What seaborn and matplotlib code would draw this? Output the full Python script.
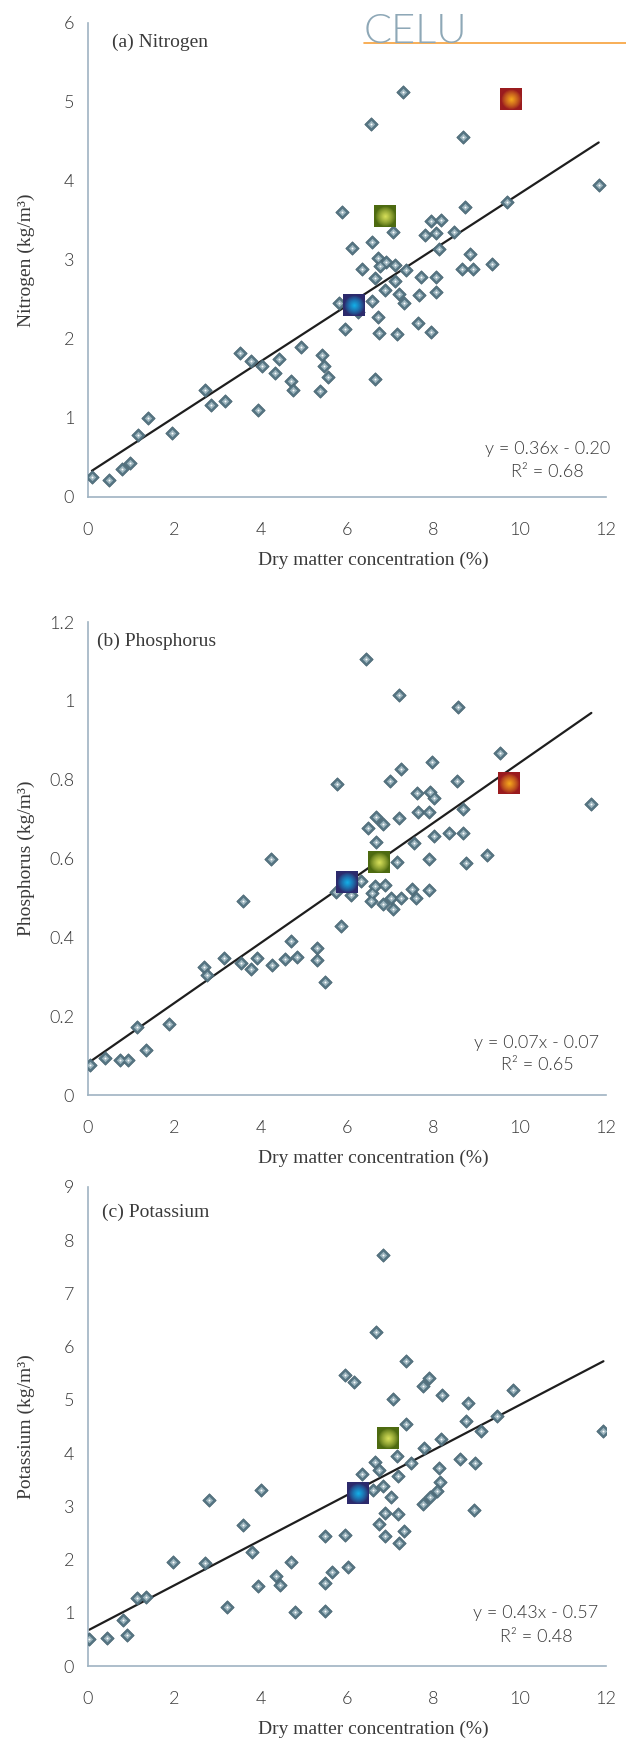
import numpy as np
import pandas as pd
import matplotlib
matplotlib.use('Agg')
import matplotlib.pyplot as plt
from matplotlib.lines import Line2D
from matplotlib.colors import to_rgb
import seaborn as sns

# dry matter (%) vs nutrient concentration (kg/m3)
n_dm = [7.30, 6.55, 8.68, 11.83, 9.70, 5.88, 8.74, 7.95, 8.17, 7.07, 8.48, 7.80, 8.06, 6.58,
        6.12, 8.14, 6.72, 6.90, 7.12, 6.77, 6.35, 7.37, 8.85, 9.36, 8.67, 8.92, 7.71, 8.06,
        6.65, 7.12, 6.89, 7.21, 7.67, 8.06, 5.82, 6.58, 7.32, 6.26, 6.72, 7.65, 5.95, 6.75,
        7.16, 7.95, 4.93, 3.52, 3.78, 4.03, 4.42, 4.34, 4.70, 4.75, 5.42, 5.47, 5.56, 5.38,
        6.65, 2.72, 2.85, 3.18, 3.94, 1.39, 1.16, 1.95, 0.79, 0.97, 0.09, 0.49]
n_val = [5.13, 4.72, 4.56, 3.95, 3.73, 3.61, 3.67, 3.49, 3.50, 3.36, 3.36, 3.32, 3.34, 3.23,
         3.15, 3.14, 3.02, 2.98, 2.94, 2.92, 2.88, 2.87, 3.08, 2.95, 2.88, 2.88, 2.79, 2.79,
         2.77, 2.73, 2.62, 2.57, 2.56, 2.60, 2.46, 2.48, 2.46, 2.34, 2.28, 2.20, 2.13, 2.07,
         2.06, 2.09, 1.90, 1.82, 1.72, 1.66, 1.75, 1.57, 1.47, 1.36, 1.80, 1.66, 1.52, 1.34,
         1.49, 1.35, 1.16, 1.21, 1.10, 1.00, 0.79, 0.81, 0.35, 0.43, 0.25, 0.21]

p_dm = [6.44, 7.20, 8.57, 9.55, 5.77, 7.97, 7.25, 7.00, 8.55, 7.62, 7.92, 8.02, 11.66, 6.67,
        7.20, 6.84, 6.49, 7.65, 7.91, 8.68, 6.67, 7.55, 8.02, 8.36, 8.69, 4.24, 7.15, 7.91,
        8.76, 9.25, 6.33, 5.75, 6.10, 6.58, 6.65, 6.89, 6.56, 6.84, 7.03, 7.07, 7.25, 7.51,
        7.60, 7.91, 5.87, 3.60, 4.71, 5.30, 5.30, 4.56, 4.84, 4.26, 3.91, 3.55, 3.78, 3.15,
        2.69, 2.75, 5.49, 1.14, 1.88, 1.34, 0.39, 0.74, 0.93, 0.05]
p_val = [1.107, 1.015, 0.985, 0.867, 0.789, 0.844, 0.827, 0.797, 0.797, 0.767, 0.769, 0.753,
         0.738, 0.706, 0.702, 0.688, 0.678, 0.719, 0.719, 0.726, 0.641, 0.640, 0.656, 0.664,
         0.664, 0.599, 0.592, 0.599, 0.588, 0.609, 0.544, 0.516, 0.507, 0.513, 0.530, 0.533,
         0.492, 0.484, 0.499, 0.472, 0.499, 0.522, 0.501, 0.520, 0.429, 0.492, 0.391, 0.374,
         0.342, 0.344, 0.351, 0.331, 0.347, 0.336, 0.319, 0.348, 0.324, 0.304, 0.287, 0.173,
         0.179, 0.114, 0.093, 0.090, 0.090, 0.076]

k_dm = [6.84, 6.67, 7.37, 5.95, 6.16, 7.91, 7.77, 7.06, 8.20, 8.80, 9.85, 9.48, 8.76, 7.37,
        9.10, 11.94, 8.18, 7.78, 7.16, 8.62, 8.96, 6.65, 6.75, 7.48, 8.14, 6.35, 7.18, 8.16,
        8.09, 7.92, 7.77, 6.84, 6.61, 7.02, 8.94, 6.88, 7.18, 6.75, 7.32, 6.88, 7.21, 5.50,
        5.95, 6.02, 5.65, 4.01, 2.81, 3.60, 3.80, 4.71, 1.96, 2.71, 4.36, 4.45, 3.94, 5.49,
        3.22, 4.80, 5.49, 1.14, 1.34, 0.82, 0.91, 0.44, 0.03]
k_val = [7.73, 6.28, 5.74, 5.47, 5.33, 5.41, 5.27, 5.02, 5.09, 4.94, 5.18, 4.69, 4.61, 4.55,
         4.41, 4.41, 4.27, 4.09, 3.94, 3.89, 3.81, 3.84, 3.69, 3.82, 3.72, 3.61, 3.57, 3.46,
         3.28, 3.17, 3.05, 3.39, 3.31, 3.18, 2.93, 2.88, 2.85, 2.66, 2.53, 2.45, 2.31, 2.45,
         2.47, 1.86, 1.77, 3.30, 3.12, 2.65, 2.14, 1.96, 1.96, 1.93, 1.69, 1.52, 1.51, 1.56,
         1.10, 1.02, 1.03, 1.27, 1.30, 0.87, 0.59, 0.52, 0.50]

# highlighted samples (blue, green, red)
n_hl_dm = [6.16, 6.88, 9.81]
n_hl_val = [2.43, 3.56, 5.04]
p_hl_dm = [6.00, 6.73, 9.76]
p_hl_val = [0.541, 0.592, 0.791]
k_hl_dm = [6.26, 6.95]
k_hl_val = [3.25, 4.29]

# trend lines as drawn (slope, intercept) and the printed equations
n_fit = (0.354, 0.30)
p_fit = (0.0762, 0.081)
k_fit = (0.4235, 0.67)
n_eq = ['y = 0.36x - 0.20', 'R² = 0.68']
p_eq = ['y = 0.07x - 0.07', 'R² = 0.65']
k_eq = ['y = 0.43x - 0.57', 'R² = 0.48']

hl_colors = [('#2c2a6c', '#12b4ec'), ('#4d6a10', '#dce45c'), ('#9a1b1e', '#f9ac1c')]

sns.set_style('white')
plt.rcParams['font.family'] = ['Lato', 'DejaVu Sans']

spine_c = '#9fb3c2'
text_c = '#3a3a3a'
serif = ['Liberation Serif', 'DejaVu Serif']

fig = plt.figure(figsize=(6.26, 17.42), dpi=100)

panels = [
    dict(x=n_dm, y=n_val, hx=n_hl_dm, hy=n_hl_val, fit=n_fit, eq=n_eq, ymax=6, ystep=1,
         title='(a) Nitrogen', ylabel='Nitrogen (kg/m³)', rect=[0.1406, 0.7147, 0.8275, 0.2721],
         tpos=(0.56, 5.75), epos=(10.65, 0.61, 0.32)),
    dict(x=p_dm, y=p_val, hx=p_hl_dm, hy=p_hl_val, fit=p_fit, eq=p_eq, ymax=1.2, ystep=0.2,
         title='(b) Phosphorus', ylabel='Phosphorus (kg/m³)', rect=[0.1406, 0.3714, 0.8275, 0.2715],
         tpos=(0.2, 1.15), epos=(10.4, 0.132, 0.076)),
    dict(x=k_dm, y=k_val, hx=k_hl_dm, hy=k_hl_val, fit=k_fit, eq=k_eq, ymax=9, ystep=1,
         title='(c) Potassium', ylabel='Potassium (kg/m³)', rect=[0.1406, 0.0436, 0.8275, 0.2750],
         tpos=(0.33, 8.53), epos=(10.38, 1.0, 0.55)),
]

for p in panels:
    ax = fig.add_axes(p['rect'])
    df = pd.DataFrame({'dm': p['x'], 'val': p['y']})

    # regression line
    lx = np.array([df['dm'].min(), df['dm'].max()])
    line_df = pd.DataFrame({'dm': lx, 'val': p['fit'][0] * lx + p['fit'][1]})
    sns.lineplot(data=line_df, x='dm', y='val', ax=ax, color='#1e1e1e', lw=1.6, zorder=2)

    # diamonds with a light centre
    sns.scatterplot(data=df, x='dm', y='val', ax=ax, marker='D', s=46, color='#557583',
                    edgecolor='#4a6673', linewidth=0.6, zorder=3)
    sns.scatterplot(data=df, x='dm', y='val', ax=ax, marker='D', s=14, color='#9db5be',
                    linewidth=0, zorder=4)
    sns.scatterplot(data=df, x='dm', y='val', ax=ax, marker='o', s=2, color='white',
                    linewidth=0, zorder=5)

    # highlighted squares with radial glow
    for i in range(len(p['hx'])):
        outer, inner = hl_colors[i]
        ax.scatter([p['hx'][i]], [p['hy'][i]], marker='s', s=230, color=outer, zorder=6,
                   linewidths=0)
        o, c = np.array(to_rgb(outer)), np.array(to_rgb(inner))
        for j, f in enumerate(np.linspace(0.95, 0.08, 14)):
            t = (1 - f) ** 0.8
            col = o * (1 - t) + c * t
            ax.scatter([p['hx'][i]], [p['hy'][i]], marker='o', s=(15 * f) ** 2, color=col,
                       zorder=7 + j, linewidths=0)

    ax.set_xlim(0, 12)
    ax.set_ylim(0, p['ymax'])
    ax.set_xticks(np.arange(0, 13, 2))
    ax.set_yticks(np.arange(0, p['ymax'] + 1e-9, p['ystep']))
    ax.yaxis.set_major_formatter(matplotlib.ticker.FormatStrFormatter('%g'))
    for s in ['top', 'right']:
        ax.spines[s].set_visible(False)
    for s in ['left', 'bottom']:
        ax.spines[s].set_color(spine_c)
        ax.spines[s].set_linewidth(1.2)
    ax.tick_params(axis='both', direction='out', length=6, width=1.2, color=spine_c,
                   labelsize=13, labelcolor=text_c)
    ax.tick_params(axis='x', pad=12)
    ax.tick_params(axis='y', pad=4)
    for lab in ax.get_xticklabels() + ax.get_yticklabels():
        lab.set_fontweight(300)

    ax.set_xlabel('Dry matter concentration (%)', family=serif, fontsize=14, color=text_c)
    ax.xaxis.label.set_va('center')
    ax.xaxis.set_label_coords(0.55, -0.133)
    ax.set_ylabel(p['ylabel'], family=serif, fontsize=14, color=text_c)
    ax.yaxis.label.set_va('center')
    ax.yaxis.set_label_coords(-0.12, 0.5)

    ax.text(p['tpos'][0], p['tpos'][1], p['title'], family=serif, fontsize=14,
            color=text_c, va='center', ha='left')
    ex, ey1, ey2 = p['epos']
    ax.text(ex, ey1, p['eq'][0], fontsize=13, color=text_c, ha='center', va='center',
            fontweight=300)
    ax.text(ex, ey2, p['eq'][1], fontsize=13, color=text_c, ha='center', va='center',
            fontweight=300)

# CELU mark
fig.text(0.581, 1 - 43 / 1742, 'CELU', fontsize=30, color='#8ea8b7', fontweight=300,
         va='baseline', ha='left')
fig.add_artist(Line2D([0.581, 1.0], [1 - 43.5 / 1742, 1 - 43.5 / 1742], color='#f7a13a',
                      lw=1.2, transform=fig.transFigure))

fig.savefig('out.png', dpi=100)
